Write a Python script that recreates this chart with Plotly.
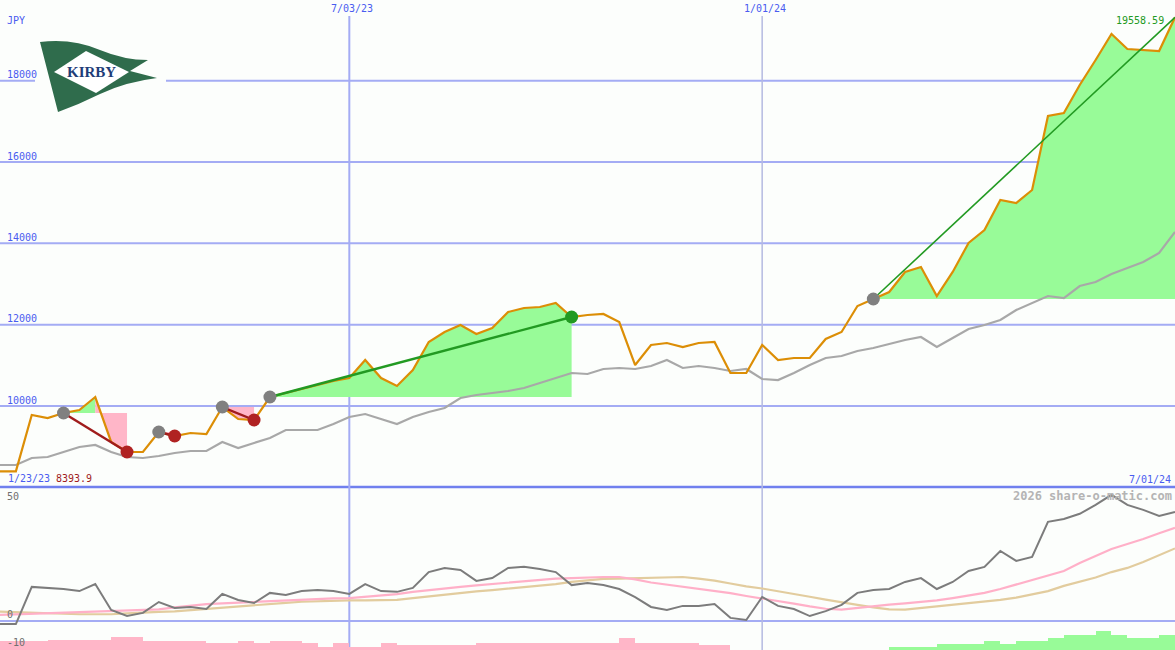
import plotly.graph_objects as go
import pandas as pd

W, H = 1175, 650
BG = "#fcfefc"

# weekly dates (Mondays)
dates = pd.date_range("2023-01-23", periods=76, freq="7D")
x_start, x_end = "2023-01-30", "2024-07-01"

# ---- data -------------------------------------------------------------
price = [8393.9, 8394, 8394, 9779, 9705, 9828, 9902, 10221, 9115, 8869, 8869,
         9361, 9262, 9336, 9311, 9975, 9680, 9656, 10221, 10320, 10418, 10516,
         10615, 10689, 11131, 10689, 10492, 10885, 11574, 11820, 11992, 11771,
         11918, 12312, 12410, 12435, 12533, 12189, 12238, 12263, 12066, 11008,
         11500, 11549, 11450, 11549, 11574, 10812, 10812, 11500, 11131, 11181,
         11181, 11648, 11820, 12459, 12632, 12804, 13296, 13419, 12705, 13296,
         14009, 14329, 15066, 14993, 15312, 17132, 17206, 17895, 18510, 19149,
         18780, 18755, 18731, 19558.59]

moving_avg = [8549, 8549, 8549, 8721, 8746, 8869, 8992, 9041, 8869, 8746, 8721,
              8770, 8844, 8893, 8893, 9115, 8967, 9090, 9213, 9410, 9410, 9410,
              9557, 9729, 9803, 9680, 9557, 9729, 9852, 9951, 10197, 10271,
              10320, 10369, 10443, 10566, 10689, 10812, 10787, 10910, 10935,
              10910, 10984, 11131, 10935, 10984, 10935, 10861, 10910, 10664,
              10639, 10812, 11008, 11181, 11230, 11353, 11426, 11525, 11623,
              11697, 11451, 11672, 11894, 11992, 12115, 12361, 12533, 12705,
              12656, 12951, 13050, 13246, 13394, 13542, 13763, 14279]

oscillator = [-1.2, -1.2, -1.2, 13.1, 12.7, 12.3, 11.5, 14.2, 4.2, 1.9, 3.1,
              7.3, 5.0, 5.4, 4.6, 10.4, 8.1, 6.9, 10.8, 10.0, 11.5, 11.9, 11.5,
              10.4, 14.2, 11.5, 11.2, 12.7, 18.8, 20.4, 19.6, 15.4, 16.5, 20.4,
              20.8, 20.0, 18.8, 13.8, 14.6, 13.8, 12.3, 9.2, 5.4, 4.2, 5.8, 5.8,
              6.5, 1.2, 0.4, 9.2, 5.8, 4.6, 1.9, 3.8, 6.2, 10.8, 11.9, 12.3,
              15.0, 16.5, 12.3, 15.0, 19.2, 20.8, 26.9, 23.1, 24.6, 38.1, 39.2,
              41.2, 44.6, 48.5, 44.6, 42.7, 40.4, 41.9]

fast_line = [2.1, 2.3, 2.5, 2.8, 3.0, 3.2, 3.4, 3.6, 3.8, 4.1, 4.3, 4.5, 5.2,
             5.8, 6.5, 6.8, 7.1, 7.4, 7.7, 8.0, 8.2, 8.5, 8.7, 8.8, 9.3, 9.8,
             10.3, 11.2, 11.9, 12.5, 13.1, 13.7, 14.2, 14.9, 15.4, 15.9, 16.3,
             16.5, 16.8, 16.9, 16.9, 16.0, 14.8, 14.0, 13.3, 12.5, 11.7, 10.7,
             9.6, 8.7, 7.7, 6.7, 5.6, 4.7, 4.4, 5.1, 5.8, 6.3, 6.8, 7.3, 7.9,
             8.8, 9.8, 10.8, 12.3, 14.0, 15.7, 17.5, 19.2, 22.3, 25.0, 27.7,
             29.6, 31.5, 33.7, 35.8]

slow_line = [3.8, 3.6, 3.3, 3.2, 2.9, 2.7, 2.6, 2.6, 2.6, 2.9, 3.3, 3.5, 3.7,
             4.2, 4.7, 5.2, 5.7, 6.2, 6.6, 7.0, 7.4, 7.6, 7.8, 7.9, 7.9, 8.0,
             8.1, 8.8, 9.5, 10.2, 10.8, 11.4, 11.9, 12.5, 12.9, 13.5, 14.2,
             15.0, 15.6, 16.2, 16.3, 16.5, 16.7, 16.9, 16.9, 16.3, 15.5, 14.4,
             13.3, 12.5, 11.5, 10.5, 9.3, 8.2, 7.1, 6.2, 5.2, 4.5, 4.4, 5.0,
             5.7, 6.3, 6.8, 7.5, 8.1, 9.0, 10.2, 11.5, 13.5, 15.0, 16.7, 18.8,
             20.4, 22.7, 25.4, 27.9]

histogram = [-3.5, -3.5, -3.5, -3.5, -3.8, -3.8, -3.8, -3.8, -5.0, -5.0,
             -3.5, -3.5, -3.5, -3.5, -2.7, -2.7, -3.5, -2.7, -3.5, -3.5, -2.7,
             -1.2, -2.7, -1.2, -1.2, -2.7, -2.0, -2.0, -2.0, -2.0, -2.0,
             -2.7, -2.7, -2.7, -2.7, -2.7, -2.7, -2.7, -2.7, -2.7, -4.6,
             -2.7, -2.7, -2.7, -2.7, -2.0, -2.0, 0, 0, 0, 0, 0, 0, 0, 0, 0, 0,
             1.3, 1.3, 1.3, 2.3, 2.3, 2.3, 3.5, 2.3, 3.5, 3.5, 4.6, 5.8, 5.8,
             7.3, 5.8, 4.6, 4.6, 5.8, 5.8]

entry_idx = [5, 11, 15, 18, 56]
exit_idx = [9, 12, 17, 37, 75]
outcome = ["loss", "loss", "loss", "win", "open"]

price_grid = [10000, 12000, 14000, 16000, 18000]
osc_labels = [("50", 496), ("0", 614), ("-10", 642)]
date_lines = ["2023-07-03", "2024-01-01"]
date_labels = ["7/03/23", "1/01/24"]

assert len(price) == len(moving_avg) == len(oscillator) == len(fast_line) == len(slow_line) == len(histogram) == len(dates)

# ---- styles -----------------------------------------------------------
ORANGE = "#dc8e06"
GRAYMA = "#a8a8a8"
GREENFILL = "#98fb98"
PINKFILL = "#ffb6c8"
GREEN = "#229a22"
DARKRED = "#a01c1c"
REDMK = "#b02222"
GRID = "#a4acf4"
BLUE = "#4a5cf0"
FONT = "DejaVu Sans Mono"
TOP_LO, TOP_HI = 8008, 19985
BOT_LO, BOT_HI = -11.15, 51.5
SPLIT = 163 / H


def py(ypx):
    return 1 - ypx / H


def px(xpx):
    return xpx / W


fig = go.Figure()
skip = dict(hoverinfo="skip", showlegend=False)

# ---- bottom panel -----------------------------------------------------
fig.add_trace(go.Bar(
    x=dates, y=[abs(h) for h in histogram], base=BOT_LO,
    width=7 * 86400000, offset=0,
    marker=dict(color=[GREENFILL if h > 0 else PINKFILL for h in histogram],
                line=dict(width=0)),
    xaxis="x2", yaxis="y2", **skip))
fig.add_trace(go.Scatter(x=dates, y=slow_line, mode="lines",
                         line=dict(color="#e2cc9e", width=2.2),
                         xaxis="x2", yaxis="y2", **skip))
fig.add_trace(go.Scatter(x=dates, y=fast_line, mode="lines",
                         line=dict(color="#ffb0c8", width=2.2),
                         xaxis="x2", yaxis="y2", **skip))
fig.add_trace(go.Scatter(x=dates, y=oscillator, mode="lines",
                         line=dict(color="#7c7c7c", width=2),
                         xaxis="x2", yaxis="y2", **skip))


# ---- trade fills ------------------------------------------------------
def add_fill(a, b, level, color):
    xs = list(dates[a:b + 1])
    fig.add_trace(go.Scatter(x=xs, y=[level] * len(xs), mode="lines",
                             line=dict(width=0, color=color), **skip))
    fig.add_trace(go.Scatter(x=xs, y=price[a:b + 1], mode="lines",
                             line=dict(width=0, color=color), fill="tonexty",
                             fillcolor=color, **skip))


for e, x, kind in zip(entry_idx, exit_idx, outcome):
    level = price[e]
    if kind in ("win", "open"):
        add_fill(e, x, level, GREENFILL)
    else:
        seg = price[e:x + 1]
        p = e + seg.index(max(seg))
        if p > e:
            add_fill(e, p, level, GREENFILL)
        add_fill(p, x, level, PINKFILL)

# ---- lines ------------------------------------------------------------
fig.add_trace(go.Scatter(x=dates, y=moving_avg, mode="lines",
                         line=dict(color=GRAYMA, width=2.2), **skip))
fig.add_trace(go.Scatter(x=dates, y=price, mode="lines",
                         line=dict(color=ORANGE, width=2.2), **skip))

for e, x, kind in zip(entry_idx, exit_idx, outcome):
    col = DARKRED if kind == "loss" else GREEN
    wdt = 1.6 if kind == "open" else 2.4
    fig.add_trace(go.Scatter(x=[dates[e], dates[x]], y=[price[e], price[x]],
                             mode="lines", line=dict(color=col, width=wdt), **skip))

# markers
fig.add_trace(go.Scatter(x=[dates[e] for e in entry_idx],
                         y=[price[e] for e in entry_idx], mode="markers",
                         marker=dict(color="#808080", size=13, line=dict(width=0)),
                         **skip))
ex_x, ex_y, ex_c = [], [], []
for x, kind in zip(exit_idx, outcome):
    if kind == "open":
        continue
    ex_x.append(dates[x])
    ex_y.append(price[x])
    ex_c.append(REDMK if kind == "loss" else GREEN)
fig.add_trace(go.Scatter(x=ex_x, y=ex_y, mode="markers",
                         marker=dict(color=ex_c, size=13, line=dict(width=0)),
                         **skip))

# ---- shapes -----------------------------------------------------------
shapes = []
for v in price_grid:
    shapes.append(dict(type="line", xref="paper", x0=0, x1=1, yref="y",
                       y0=v, y1=v, line=dict(color=GRID, width=2), layer="below"))
shapes.append(dict(type="line", xref="paper", x0=0, x1=1, yref="y2",
                   y0=0, y1=0, line=dict(color=GRID, width=2), layer="below"))
shapes.append(dict(type="line", xref="paper", x0=0, x1=1, yref="paper",
                   y0=SPLIT, y1=SPLIT, line=dict(color="#7080ee", width=2.5),
                   layer="below"))
shapes.append(dict(type="line", xref="x", x0=date_lines[0], x1=date_lines[0],
                   yref="paper", y0=0, y1=py(16),
                   line=dict(color=GRID, width=2), layer="below"))
shapes.append(dict(type="line", xref="x", x0=date_lines[1], x1=date_lines[1],
                   yref="paper", y0=0, y1=py(16),
                   line=dict(color="#b4bae0", width=1.5), layer="below"))

# logo: white backing + pennant + diamond
shapes.append(dict(type="rect", xref="paper", yref="paper",
                   x0=px(35), x1=px(166), y0=py(120), y1=py(36),
                   fillcolor=BG, line=dict(width=0), layer="below"))


def path(pts_cmds):
    out = []
    for cmd, pts in pts_cmds:
        coords = " ".join(f"{px(a):.5f},{py(b):.5f}" for a, b in pts)
        out.append(f"{cmd} {coords}")
    return " ".join(out) + " Z"


flag = path([("M", [(40, 42)]),
             ("Q", [(72, 38), (100, 50)]),
             ("Q", [(124, 60), (148, 60)]),
             ("L", [(130, 71)]),
             ("L", [(157, 78)]),
             ("Q", [(125, 82), (100, 94)]),
             ("Q", [(80, 104), (58, 112)])])
shapes.append(dict(type="path", xref="paper", yref="paper", path=flag,
                   fillcolor="#2f6c4c", line=dict(width=0), layer="below"))
diamond = path([("M", [(54, 72)]), ("L", [(86, 51)]), ("L", [(129, 72)]),
                ("L", [(96, 93)])])
shapes.append(dict(type="path", xref="paper", yref="paper", path=diamond,
                   fillcolor="#ffffff", line=dict(width=0), layer="below"))

# ---- annotations ------------------------------------------------------
ann = []


def label(text, xpx, ypx, color, size=10, anchor="left", bold=False, family=FONT):
    ann.append(dict(text=f"<b>{text}</b>" if bold else text, xref="paper",
                    yref="paper", x=px(xpx), y=py(ypx), xanchor=anchor,
                    yanchor="middle", showarrow=False,
                    font=dict(family=family, size=size, color=color)))


label("JPY", 5, 21, BLUE)
for v in price_grid:
    ypx = (1 - (v - TOP_LO) / (TOP_HI - TOP_LO)) * (H - 163)
    if v == 18000:
        label(str(v), 5, ypx - 6, BLUE)
    else:
        label(str(v), 5, ypx - 6, BLUE)
for t, d in zip(date_labels, date_lines):
    ann.append(dict(text=t, xref="x", yref="paper", x=d, y=py(9),
                    xanchor="center", yanchor="middle", xshift=3,
                    showarrow=False, font=dict(family=FONT, size=10, color=BLUE)))
label(f"{price[-1]:.2f}", 1166, 21, GREEN, anchor="right")
label("1/23/23", 6, 478, BLUE)
label(f"{price[0]}", 54, 478, DARKRED)
label("7/01/24", 1173, 479, BLUE, anchor="right")
label("2026 share-o-matic.com", 1174, 496, "#b4b4b4", size=12, anchor="right",
      bold=True)
for t, ypx in osc_labels:
    label(t, 5, ypx, "#707070")
label("KIRBY", 92, 72, "#1f3d78", size=15, anchor="center", bold=True,
      family="Liberation Serif")

fig.update_layout(
    width=W, height=H, margin=dict(l=0, r=0, t=0, b=0),
    paper_bgcolor=BG, plot_bgcolor=BG, showlegend=False,
    font=dict(family=FONT),
    xaxis=dict(domain=[0, 1], range=[x_start, x_end], visible=False,
               anchor="y", type="date"),
    yaxis=dict(domain=[SPLIT, 1], range=[TOP_LO, TOP_HI], visible=False),
    xaxis2=dict(domain=[0, 1], range=[x_start, x_end], visible=False,
                anchor="y2", matches="x", type="date"),
    yaxis2=dict(domain=[0, SPLIT], range=[BOT_LO, BOT_HI], visible=False),
    shapes=shapes, annotations=ann, bargap=0,
)

fig.write_html("out.html", config={"displayModeBar": False},
               post_script="document.body.style.margin='0';document.body.style.overflow='hidden';")
